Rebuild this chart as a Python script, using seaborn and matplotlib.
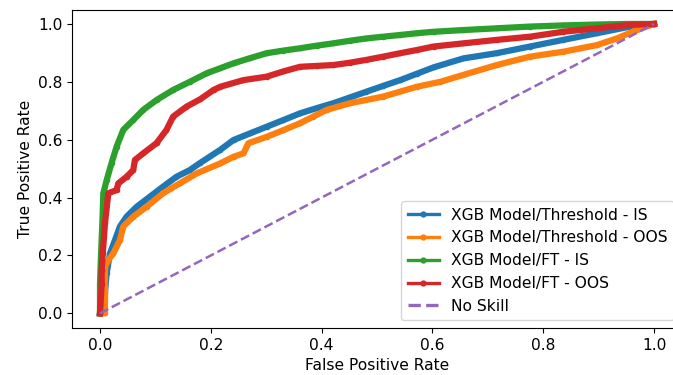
import numpy as np
import pandas as pd
import matplotlib
matplotlib.use("Agg")
import matplotlib.pyplot as plt
import seaborn as sns
from matplotlib.lines import Line2D

# ---- data ----
thr_is_fpr = [0, 0.008, 0.012, 0.018, 0.027, 0.036, 0.048, 0.066, 0.09, 0.114, 0.138, 0.162, 0.181, 0.217,
              0.241, 0.271, 0.301, 0.331, 0.361, 0.391, 0.421, 0.451, 0.481, 0.511, 0.542, 0.572, 0.602,
              0.656, 0.716, 0.776, 0.836, 0.897, 0.957, 1.0]
thr_is_tpr = [0, 0.05, 0.138, 0.207, 0.253, 0.3, 0.334, 0.368, 0.403, 0.438, 0.472, 0.495, 0.52, 0.565,
              0.599, 0.622, 0.645, 0.668, 0.691, 0.709, 0.726, 0.746, 0.766, 0.786, 0.806, 0.828, 0.85,
              0.881, 0.899, 0.922, 0.945, 0.968, 0.991, 1.0]

thr_oos_fpr = [0, 0.009, 0.009, 0.009, 0.015, 0.024, 0.036, 0.042, 0.06, 0.084, 0.114, 0.144, 0.175, 0.217,
               0.241, 0.259, 0.268, 0.301, 0.331, 0.361, 0.385, 0.409, 0.451, 0.511, 0.572, 0.614, 0.656,
               0.716, 0.776, 0.836, 0.897, 0.933, 0.969, 1.0]
thr_oos_tpr = [0, 0.0, 0.069, 0.161, 0.184, 0.207, 0.253, 0.3, 0.334, 0.368, 0.415, 0.449, 0.484, 0.518,
               0.541, 0.553, 0.588, 0.61, 0.633, 0.657, 0.68, 0.703, 0.726, 0.749, 0.783, 0.80, 0.824,
               0.858, 0.887, 0.904, 0.927, 0.95, 0.979, 1.0]

ft_is_fpr = [0, 0.0, 0.002, 0.004, 0.006, 0.012, 0.021, 0.030, 0.042, 0.060, 0.078, 0.102, 0.132, 0.162,
             0.193, 0.217, 0.241, 0.271, 0.301, 0.331, 0.361, 0.391, 0.421, 0.451, 0.481, 0.511, 0.542,
             0.572, 0.602, 0.656, 0.716, 0.776, 0.836, 0.897, 0.95, 1.0]
ft_is_tpr = [0, 0.1, 0.21, 0.3, 0.415, 0.46, 0.52, 0.576, 0.634, 0.668, 0.703, 0.737, 0.772, 0.80,
             0.83, 0.847, 0.864, 0.882, 0.899, 0.908, 0.916, 0.925, 0.933, 0.942, 0.95, 0.956, 0.962,
             0.968, 0.973, 0.979, 0.985, 0.991, 0.995, 0.998, 1.0, 1.0]

ft_oos_fpr = [0, 0.003, 0.003, 0.005, 0.009, 0.015, 0.03, 0.033, 0.048, 0.06, 0.063, 0.078, 0.102, 0.12,
              0.132, 0.156, 0.181, 0.205, 0.217, 0.259, 0.301, 0.331, 0.361, 0.391, 0.421, 0.451, 0.481,
              0.511, 0.542, 0.572, 0.602, 0.656, 0.716, 0.776, 0.836, 0.897, 0.957, 1.0]
ft_oos_tpr = [0, 0.1, 0.15, 0.207, 0.311, 0.415, 0.426, 0.449, 0.472, 0.495, 0.53, 0.553, 0.588, 0.634,
              0.68, 0.714, 0.74, 0.772, 0.783, 0.806, 0.818, 0.836, 0.852, 0.855, 0.858, 0.866, 0.876,
              0.887, 0.899, 0.91, 0.922, 0.933, 0.945, 0.956, 0.973, 0.985, 0.997, 1.0]

noskill_x = [0, 1]
noskill_y = [0, 1]

labels = ["XGB Model/Threshold - IS", "XGB Model/Threshold - OOS",
          "XGB Model/FT - IS", "XGB Model/FT - OOS"]
colors = ["#1f77b4", "#ff7f0e", "#2ca02c", "#d62728"]

frames = []
for lab, fx, ty in zip(labels,
                       [thr_is_fpr, thr_oos_fpr, ft_is_fpr, ft_oos_fpr],
                       [thr_is_tpr, thr_oos_tpr, ft_is_tpr, ft_oos_tpr]):
    d = pd.DataFrame({"fpr": fx, "tpr": ty})
    d["model"] = lab
    frames.append(d)
df = pd.concat(frames, ignore_index=True)

FS = 11.2
W, H = 673, 375
fig = plt.figure(figsize=(W / 100, H / 100), dpi=100)
ax = fig.add_axes([72.3 / W, (H - 327.8) / H, (681.7 - 72.3) / W, (327.8 - 9.5) / H])

sns.lineplot(data=df, x="fpr", y="tpr", hue="model", hue_order=labels,
             palette=colors, marker=".", markersize=8, markeredgewidth=0,
             linewidth=4.5, sort=False, estimator=None, units="model",
             ax=ax, legend=False)
sns.lineplot(x=noskill_x, y=noskill_y, color="#9467bd", linestyle="--",
             linewidth=1.8, ax=ax, legend=False)

ax.set_xlim(-0.05, 1.05)
ax.set_ylim(-0.05, 1.05)
ax.set_xticks([0.0, 0.2, 0.4, 0.6, 0.8, 1.0])
ax.set_yticks([0.0, 0.2, 0.4, 0.6, 0.8, 1.0])
ax.set_xlabel("False Positive Rate", fontsize=FS)
ax.set_ylabel("True Positive Rate", fontsize=FS)
ax.tick_params(labelsize=FS)

handles = [Line2D([], [], color=c, marker=".", linewidth=2.4, markersize=7) for c in colors]
handles.append(Line2D([], [], color="#9467bd", linestyle="--", linewidth=2.4))
ax.legend(handles, labels + ["No Skill"], loc="lower right", fontsize=FS)

fig.savefig("out.png", dpi=100)
